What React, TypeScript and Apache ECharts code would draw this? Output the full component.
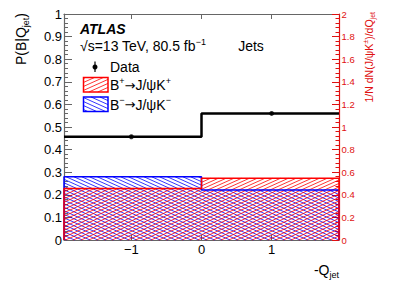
import React, { useEffect, useRef } from "react";
import * as echarts from "echarts";

// ---- data ----
const binEdges = [-1.96, 0, 1.96];
const dataProb = [0.457, 0.56];
const dataX = [-1, 1];
const dataErr = [0.006, 0.006];
const bPlusNorm = [0.456, 0.546];
const bMinusNorm = [0.56, 0.442];
const xTickValues = [-1, 0, 1];

const FONT = "'Liberation Sans', Arial, Helvetica, sans-serif";
const RED = "#ff0000";
const BLUE = "#0000ff";
const AXIS_RED = "#e01010";
const AXIS_GRAY = "#666666";
const HATCH_DV = 3.5;

function hatch(x0: number, y0: number, x1: number, y1: number, slope: number, dv: number) {
  const segs: number[][] = [];
  const cs = [y0 - slope * x0, y0 - slope * x1, y1 - slope * x0, y1 - slope * x1];
  const cmin = Math.min(...cs);
  const cmax = Math.max(...cs);
  for (let n = Math.floor(cmin / dv); n <= Math.ceil(cmax / dv); n++) {
    const c = n * dv;
    const xa = (y0 - c) / slope;
    const xb = (y1 - c) / slope;
    const lo = Math.max(x0, Math.min(xa, xb));
    const hi = Math.min(x1, Math.max(xa, xb));
    if (hi > lo) segs.push([lo, c + slope * lo, hi, c + slope * hi]);
  }
  return segs;
}

function binsOf(values: number[]) {
  return values.map((v, i) => [binEdges[i], binEdges[i + 1], v]);
}

function stepPoints(values: number[]) {
  const pts: number[][] = [];
  values.forEach((v, i) => {
    pts.push([binEdges[i], v]);
    pts.push([binEdges[i + 1], v]);
  });
  return pts;
}

function histOutline(values: number[]) {
  const pts = stepPoints(values);
  return [[binEdges[0], 0], ...pts, [binEdges[binEdges.length - 1], 0]];
}

function hatchSeries(name: string, values: number[], color: string, slope: number) {
  return {
    type: "custom",
    name,
    yAxisIndex: 1,
    silent: true,
    data: binsOf(values),
    renderItem: (_p: any, api: any) => {
      const a = api.coord([api.value(0), api.value(2)]);
      const b = api.coord([api.value(1), 0]);
      const segs = hatch(a[0], a[1], b[0], b[1], slope, HATCH_DV);
      const d = segs.map((s) => `M${s[0]} ${s[1]}L${s[2]} ${s[3]}`).join("");
      return { type: "path", shape: { pathData: d }, style: { stroke: color, fill: "none", lineWidth: 0.8 } };
    },
  };
}

function outlineSeries(name: string, values: number[], color: string) {
  return {
    type: "line",
    name,
    yAxisIndex: 1,
    data: histOutline(values),
    symbol: "none",
    lineStyle: { color, width: 1.5 },
    silent: true,
  };
}

const richBase = (size: number, color = "#000") => {
  const small = Math.round(size * 0.65);
  return {
    a: { fontSize: size, fontFamily: FONT, fill: color, color, lineHeight: size + 4 },
    r: { fontSize: size - 1, fontFamily: "'DejaVu Sans', sans-serif", fill: color, color, lineHeight: size + 4 },
    p: { fontSize: small, fontFamily: FONT, fill: color, color, verticalAlign: "top", lineHeight: small },
    s: { fontSize: small, fontFamily: FONT, fill: color, color, verticalAlign: "bottom", lineHeight: small },
  };
};

function legendBox(x: number, y: number, w: number, h: number, color: string, slope: number) {
  const lines = hatch(x, y, x + w, y + h, slope, 4).map((s) => ({
    type: "line",
    shape: { x1: s[0], y1: s[1], x2: s[2], y2: s[3] },
    style: { stroke: color, lineWidth: 0.8 },
    silent: true,
  }));
  return [
    ...lines,
    { type: "rect", shape: { x, y, width: w, height: h }, style: { stroke: color, fill: "none", lineWidth: 1.5 } },
  ];
}

export default function App() {
  const ref = useRef<HTMLDivElement>(null);
  useEffect(() => {
    if (!ref.current) return;
    const chart = echarts.init(ref.current, null, { renderer: "svg" });
    const option: any = {
      animation: false,
      backgroundColor: "#fff",
      grid: { left: 64, top: 14, width: 275, height: 226 },
      xAxis: [
        {
          type: "value",
          min: -1.96,
          max: 1.96,
          position: "bottom",
          axisLine: { show: true, onZero: false, lineStyle: { color: AXIS_GRAY, width: 1.2 } },
          axisTick: { show: true, inside: true, length: 5, customValues: xTickValues, lineStyle: { color: AXIS_GRAY } },
          axisLabel: {
            customValues: xTickValues,
            formatter: (v: number) => (v < 0 ? "\u2212" + Math.abs(v) : String(v)),
            fontSize: 13,
            fontFamily: FONT,
            color: "#000",
            margin: 3,
          },
          splitLine: { show: false },
        },
        {
          type: "value",
          min: -1.96,
          max: 1.96,
          position: "top",
          axisLine: { show: true, onZero: false, lineStyle: { color: AXIS_GRAY, width: 1.2 } },
          axisTick: { show: true, inside: true, length: 5, customValues: xTickValues, lineStyle: { color: AXIS_GRAY } },
          axisLabel: { show: false },
          splitLine: { show: false },
        },
      ],
      yAxis: [
        {
          type: "value",
          min: 0,
          max: 1,
          interval: 0.1,
          position: "left",
          axisLine: { show: true, onZero: false, lineStyle: { color: AXIS_GRAY, width: 1.2 } },
          axisTick: { show: true, inside: true, length: 8, lineStyle: { color: AXIS_GRAY } },
          minorTick: { show: true, splitNumber: 5, length: 4, lineStyle: { color: AXIS_GRAY } },
          axisLabel: {
            fontSize: 13,
            fontFamily: FONT,
            color: "#000",
            margin: 2,
            formatter: (v: number) => String(Math.round(v * 10) / 10),
          },
          splitLine: { show: false },
        },
        {
          type: "value",
          min: 0,
          max: 2,
          interval: 0.2,
          position: "right",
          axisLine: { show: true, onZero: false, lineStyle: { color: AXIS_RED, width: 1.2 } },
          axisTick: { show: true, inside: true, length: 7, lineStyle: { color: AXIS_RED } },
          minorTick: { show: true, splitNumber: 5, length: 3.5, lineStyle: { color: AXIS_RED } },
          axisLabel: {
            fontSize: 9.5,
            fontFamily: FONT,
            color: AXIS_RED,
            margin: 2.5,
            formatter: (v: number) => String(Math.round(v * 10) / 10),
          },
          splitLine: { show: false },
        },
      ],
      series: [
        hatchSeries("B- hatch", bMinusNorm, BLUE, 0.45),
        hatchSeries("B+ hatch", bPlusNorm, RED, -0.45),
        outlineSeries("B- -> J/psi K-", bMinusNorm, BLUE),
        outlineSeries("B+ -> J/psi K+", bPlusNorm, RED),
        {
          type: "line",
          name: "Data step",
          data: stepPoints(dataProb),
          symbol: "none",
          lineStyle: { color: "#000", width: 2.5 },
          silent: true,
        },
        {
          type: "custom",
          name: "Data errors",
          silent: true,
          data: dataX.map((x, i) => [x, dataProb[i], dataErr[i]]),
          renderItem: (_p: any, api: any) => {
            const lo = api.coord([api.value(0), api.value(1) - api.value(2)]);
            const hi = api.coord([api.value(0), api.value(1) + api.value(2)]);
            return {
              type: "line",
              shape: { x1: lo[0], y1: lo[1], x2: hi[0], y2: hi[1] },
              style: { stroke: "#000", lineWidth: 1.2 },
            };
          },
        },
        {
          type: "scatter",
          name: "Data",
          data: dataX.map((x, i) => [x, dataProb[i]]),
          symbol: "circle",
          symbolSize: 5,
          itemStyle: { color: "#000" },
          silent: true,
        },
      ],
      graphic: [
        {
          type: "text",
          x: 80,
          y: 29,
          style: {
            text: "ATLAS",
            fontSize: 14,
            fontWeight: "bold",
            fontStyle: "italic",
            fontFamily: FONT,
            fill: "#000",
            verticalAlign: "middle",
          },
        },
        {
          type: "text",
          x: 80,
          y: 46,
          style: {
            text: "{a|\u221As=13 TeV, 80.5 fb}{p|\u22121}",
            rich: richBase(14),
            verticalAlign: "middle",
          },
        },
        {
          type: "text",
          x: 251,
          y: 45.5,
          style: { text: "Jets", fontSize: 14, fontFamily: FONT, fill: "#000", align: "center", verticalAlign: "middle" },
        },
        // legend
        { type: "line", shape: { x1: 95, y1: 61.5, x2: 95, y2: 72 }, style: { stroke: "#000", lineWidth: 1.2 } },
        { type: "circle", shape: { cx: 95, cy: 67, r: 2.5 }, style: { fill: "#000" } },
        {
          type: "text",
          x: 110,
          y: 67,
          style: { text: "Data", fontSize: 14, fontFamily: FONT, fill: "#000", verticalAlign: "middle" },
        },
        ...legendBox(83.5, 77.5, 24.5, 14.5, RED, -0.45),
        {
          type: "text",
          x: 110,
          y: 85,
          style: { text: "{a|B}{p|+}{r|\u2192}{a|J/\u03C8K}{p|+}", rich: richBase(14), verticalAlign: "middle" },
        },
        ...legendBox(83.5, 97, 24.5, 14.5, BLUE, 0.45),
        {
          type: "text",
          x: 110,
          y: 104.5,
          style: { text: "{a|B}{p|\u2212}{r|\u2192}{a|J/\u03C8K}{p|\u2212}", rich: richBase(14), verticalAlign: "middle" },
        },
        // axis titles
        {
          type: "text",
          x: 21,
          y: 13,
          rotation: Math.PI / 2,
          style: { text: "{a|P(B|Q}{s|jet}{a|)}", rich: richBase(14), align: "right", verticalAlign: "middle" },
        },
        {
          type: "text",
          x: 369,
          y: 12,
          rotation: Math.PI / 2,
          style: {
            text: "{a|1/N dN(J/\u03C8K}{p|\u00B1}{a|)/dQ}{s|jet}",
            rich: richBase(10.5, AXIS_RED),
            fill: AXIS_RED,
            align: "right",
            verticalAlign: "middle",
          },
        },
        {
          type: "text",
          x: 339,
          y: 270,
          style: { text: "{a|-Q}{s|jet}", rich: richBase(14), align: "right", verticalAlign: "middle" },
        },
      ],
    };
    chart.setOption(option);
    return () => chart.dispose();
  }, []);
  return <div ref={ref} style={{ position: "absolute", left: 0, top: 0, width: 399, height: 286, background: "#fff" }} />;
}
